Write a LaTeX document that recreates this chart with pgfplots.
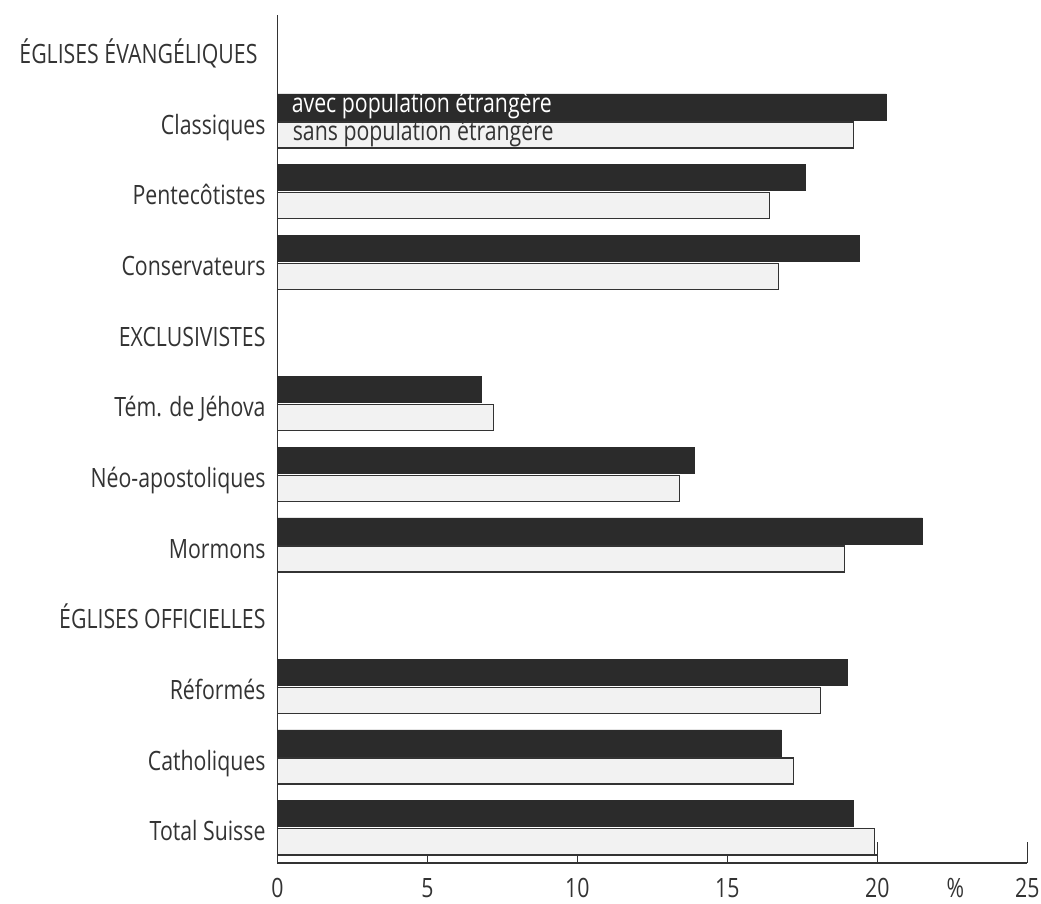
\documentclass[border=0pt]{standalone}
\usepackage{fontspec}
\setmainfont{Open Sans}[FakeStretch=0.8]
\usepackage{pgfplots}
\pgfplotsset{compat=1.18}
\definecolor{avec}{HTML}{2B2B2B}
\definecolor{sans}{HTML}{F2F2F2}
\definecolor{ink}{HTML}{333333}
\newcommand{\lblfont}{\fontsize{13.3pt}{16pt}\selectfont}

\begin{document}
\begin{tikzpicture}
\path[use as bounding box] (-138.7pt,-20.5pt) rectangle (381.8pt,431.5pt);
\begin{axis}[
  at={(0pt,0pt)}, anchor=south west,
  scale only axis, width=374.95pt, height=424pt,
  xmin=0, xmax=25, ymin=-0.5, ymax=11.5,
  axis x line=bottom, axis y line=left,
  axis line style={-, ink, line width=0.75pt},
  xbar, bar width=0.368,
  xtick={0,5,10,15,20,25},
  minor xtick={20,25},
  tick align=inside,
  major tick length=4pt, minor tick length=10.5pt,
  tick style={ink, line width=0.75pt},
  extra x ticks={22.6}, extra x tick labels={\%},
  extra x tick style={major tick length=0pt},
  /pgf/number format/assume math mode=true,
  every tick label/.append style={font=\lblfont, text=ink},
  xticklabel style={anchor=north, inner sep=0pt, yshift=-7.5pt},
  ytick={0,...,11},
  yticklabels={Total Suisse, Catholiques, Réformés, ÉGLISES OFFICIELLES,
    Mormons, Néo-apostoliques, Tém. de Jéhova, EXCLUSIVISTES,
    Conservateurs, Pentecôtistes, Classiques, ÉGLISES ÉVANGÉLIQUES\hspace*{4pt}},
  ytick style={draw=none},
  yticklabel style={anchor=base east, inner sep=0pt, xshift=-5.75pt, yshift=-6.65pt},
  clip=false,
]
% avec population etrangere
\addplot[xbar, bar shift=0.198, fill=avec, draw=avec, line width=0.4pt] coordinates {
  (19.2,0) (16.8,1) (19.0,2) (21.5,4) (13.9,5) (6.8,6) (19.4,8) (17.6,9) (20.3,10)};
% sans population etrangere
\addplot[xbar, bar shift=-0.198, fill=sans, draw=ink, line width=0.75pt] coordinates {
  (19.9,0) (17.2,1) (18.1,2) (18.9,4) (13.4,5) (7.2,6) (16.7,8) (16.4,9) (19.2,10)};

\draw[ink, line width=0.75pt] (axis cs:0,-0.386) -- (axis cs:20,-0.386);
\node[anchor=base west, inner sep=0pt, text=white, font=\lblfont]
  at ([xshift=7pt,yshift=-3pt]axis cs:0,10.198) {avec population étrangère};
\node[anchor=base west, inner sep=0pt, text=ink, font=\lblfont]
  at ([xshift=7.5pt,yshift=-3pt]axis cs:0,9.802) {sans population étrangère};
\end{axis}
\end{tikzpicture}
\end{document}
